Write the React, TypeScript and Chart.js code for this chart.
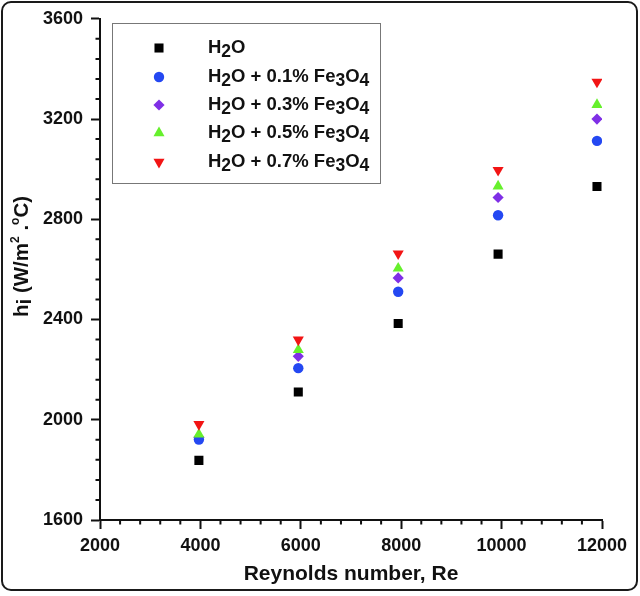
import React, { useEffect, useRef } from 'react';
import { Chart, registerables } from 'chart.js';
import { drawPoint } from 'chart.js/helpers';

Chart.register(...registerables);

// Reynolds numbers of the tests
const reynolds = [3970, 5950, 7940, 9930, 11900];

// heat transfer coefficient h_i (W/m2.C)
const water = [1838, 2111, 2384, 2661, 2931];
const fe01 = [1921, 2206, 2511, 2816, 3113];
const fe03 = [1930, 2253, 2566, 2887, 3200];
const fe05 = [1942, 2279, 2604, 2932, 3257];
const fe07 = [1982, 2319, 2663, 2996, 3348];

// legend labels, split into [text, isSubscript] pieces
const legendLabels: [string, boolean][][] = [
    [['H', false], ['2', true], ['O', false]],
    [['H', false], ['2', true], ['O + 0.1% Fe', false], ['3', true], ['O', false], ['4', true]],
    [['H', false], ['2', true], ['O + 0.3% Fe', false], ['3', true], ['O', false], ['4', true]],
    [['H', false], ['2', true], ['O + 0.5% Fe', false], ['3', true], ['O', false], ['4', true]],
    [['H', false], ['2', true], ['O + 0.7% Fe', false], ['3', true], ['O', false], ['4', true]],
];

const FONT = '"Liberation Sans", Arial, sans-serif';
const INK = '#111';

// order: higher is drawn first (underneath)
const series = [
    { data: water, color: '#000000', style: 'rect', radius: 6.4, rotation: 0, order: 5 },
    { data: fe01, color: '#2448f2', style: 'circle', radius: 5.2, rotation: 0, order: 3 },
    { data: fe03, color: '#7f2fe6', style: 'rectRot', radius: 5.6, rotation: 0, order: 4 },
    { data: fe05, color: '#66f02c', style: 'triangle', radius: 6.4, rotation: 0, order: 2 },
    { data: fe07, color: '#f21414', style: 'triangle', radius: 6.4, rotation: 180, order: 1 },
];

// minor ticks, legend box and the y title with sub/superscripts
const extrasPlugin = {
    id: 'extras',
    afterDraw(chart: any) {
        const ctx = chart.ctx;
        const { left, bottom } = chart.chartArea;
        const xs = chart.scales.x;
        const ys = chart.scales.y;
        ctx.save();
        ctx.strokeStyle = INK;
        ctx.lineWidth = 2;
        ctx.beginPath();
        for (let v = 2000; v <= 12000; v += 400) {
            if (v % 2000 === 0) continue;
            const px = xs.getPixelForValue(v);
            ctx.moveTo(px, bottom);
            ctx.lineTo(px, bottom + 4.5);
        }
        for (let v = 1600; v <= 3600; v += 80) {
            if (v % 400 === 0) continue;
            const py = ys.getPixelForValue(v);
            ctx.moveTo(left, py);
            ctx.lineTo(left - 4.5, py);
        }
        ctx.stroke();

        // legend
        ctx.strokeStyle = '#777';
        ctx.lineWidth = 1;
        ctx.strokeRect(112.5, 23.5, 268, 160);
        const rows = [48, 77, 105, 133, 162];
        rows.forEach((ry, i) => {
            const s = series[i];
            ctx.fillStyle = s.color;
            drawPoint(ctx, { pointStyle: s.style, radius: s.radius, rotation: s.rotation, borderWidth: 0 } as any, 159, ry);
            ctx.fillStyle = INK;
            ctx.textBaseline = 'alphabetic';
            ctx.textAlign = 'left';
            let x = 208;
            for (const [t, sub] of legendLabels[i]) {
                ctx.font = `bold ${sub ? 17.5 : 18.5}px ${FONT}`;
                ctx.fillText(t, x, ry + 4.5 + (sub ? 4 : 0));
                x += ctx.measureText(t).width;
            }
        });

        // y axis title
        ctx.translate(28, 317);
        ctx.rotate(-Math.PI / 2);
        const parts: [string, number, number][] = [
            ['h', 20.5, 0], ['i', 20.5, 3], [' (W/m', 20.5, 0], ['2', 12, -9], [' .', 20.5, 0], ['o', 12, -9], ['C)', 20.5, 0],
        ];
        let tx = 0;
        for (const [t, size, dy] of parts) {
            ctx.font = `bold ${size}px ${FONT}`;
            ctx.fillText(t, tx, dy);
            tx += ctx.measureText(t).width;
        }
        ctx.restore();
    },
};

const App: React.FC = () => {
    const chartRef = useRef<HTMLCanvasElement>(null);

    useEffect(() => {
        if (!chartRef.current) return;
        const chartInstance = new Chart(chartRef.current, {
            type: 'scatter',
            data: {
                datasets: series.map((s) => ({
                    data: reynolds.map((x, i) => ({ x, y: s.data[i] })),
                    backgroundColor: s.color,
                    borderWidth: 0,
                    order: s.order,
                    pointStyle: s.style as any,
                    pointRadius: s.radius,
                    pointRotation: s.rotation,
                    pointHoverRadius: s.radius,
                })),
            },
            options: {
                responsive: false,
                animation: false,
                layout: { padding: { left: 0, top: 15, right: 38, bottom: 0 } },
                plugins: {
                    legend: { display: false },
                    tooltip: { enabled: false },
                },
                scales: {
                    x: {
                        type: 'linear',
                        min: 2000,
                        max: 12000,
                        afterFit: (scale: any) => { scale.height = 76; },
                        ticks: {
                            stepSize: 2000,
                            color: INK,
                            padding: 6,
                            maxRotation: 0,
                            callback: (v: any) => String(v),
                            font: { family: FONT, size: 18, weight: 'bold' },
                        },
                        grid: { drawOnChartArea: false, tickLength: 9, tickWidth: 2, tickColor: INK },
                        border: { color: INK, width: 2 },
                        title: {
                            display: true,
                            text: 'Reynolds number, Re',
                            color: INK,
                            padding: { top: 0, bottom: 9 },
                            font: { family: FONT, size: 21, weight: 'bold' },
                        },
                    },
                    y: {
                        type: 'linear',
                        min: 1600,
                        max: 3600,
                        afterFit: (scale: any) => { scale.width = 100; },
                        ticks: {
                            stepSize: 400,
                            color: INK,
                            padding: 8,
                            callback: (v: any) => String(v),
                            font: { family: FONT, size: 18, weight: 'bold' },
                        },
                        grid: { drawOnChartArea: false, tickLength: 9, tickWidth: 2, tickColor: INK },
                        border: { color: INK, width: 2 },
                    },
                },
            },
            plugins: [extrasPlugin],
        });

        return () => {
            chartInstance.destroy();
        };
    }, []);

    return (
        <div style={{ position: 'absolute', left: 0, top: 0, width: 640, height: 596, background: '#fff' }}>
            <canvas ref={chartRef} width={640} height={596} style={{ position: 'absolute', left: 0, top: 0 }} />
            <div
                style={{
                    position: 'absolute',
                    left: 1,
                    top: 1,
                    width: 637,
                    height: 590,
                    boxSizing: 'border-box',
                    border: '2.5px solid #1a1a1a',
                    borderRadius: 10,
                    pointerEvents: 'none',
                }}
            />
        </div>
    );
};

export default App;
